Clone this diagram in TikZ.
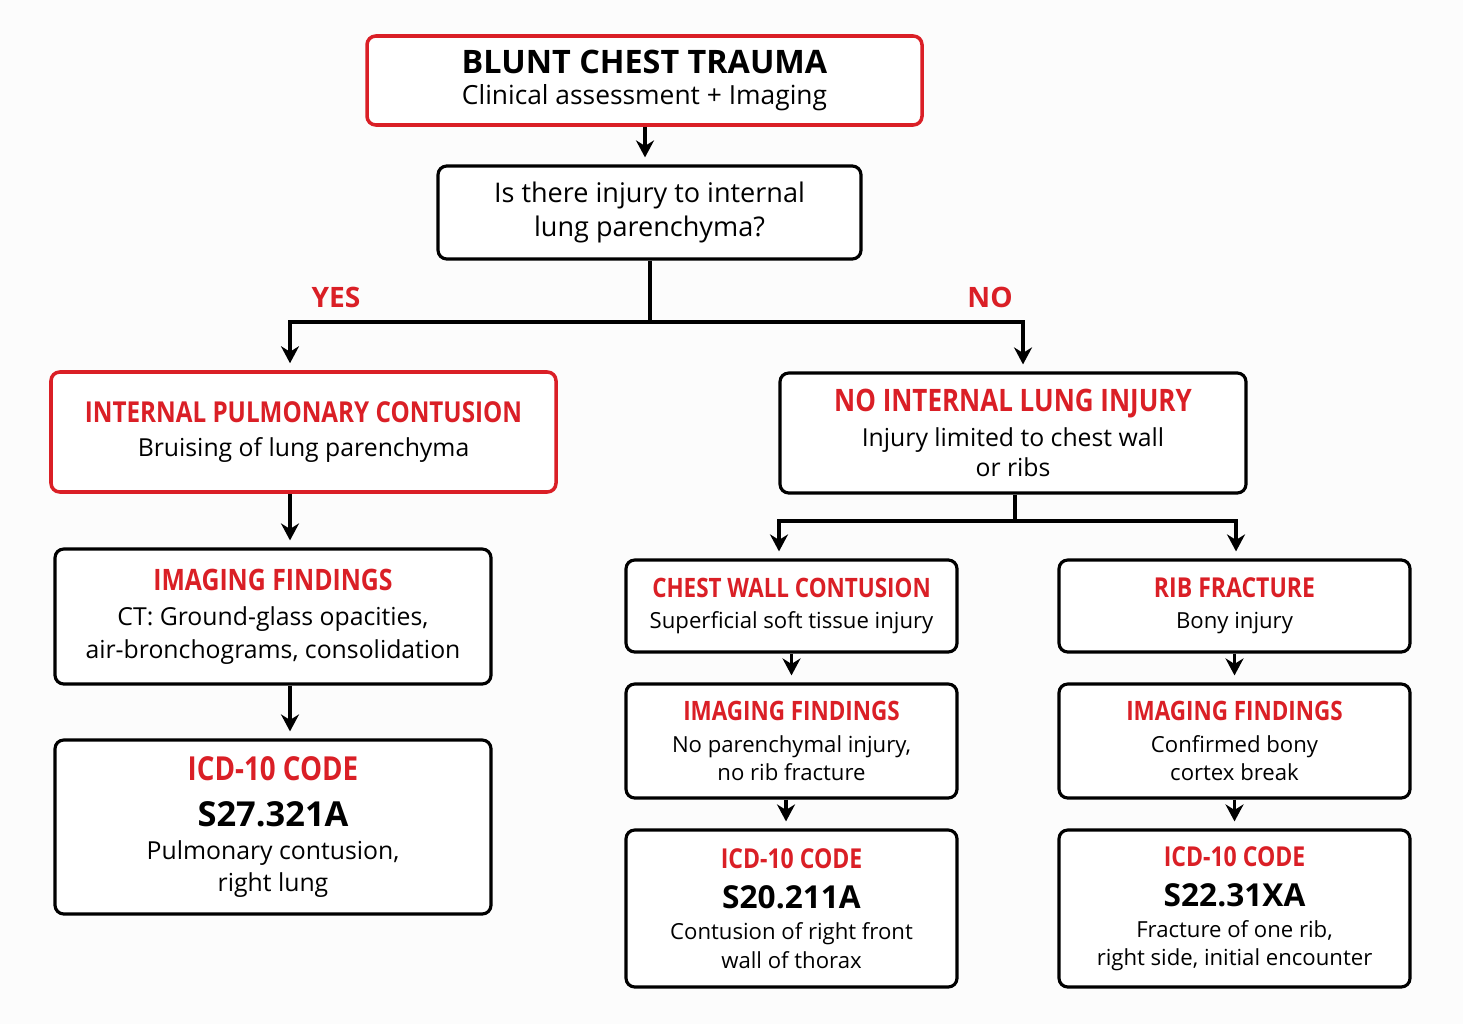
\documentclass[tikz,border=0pt]{standalone}
\usepackage{fontspec}
\setmainfont{Open Sans}
\newfontfamily\narrowfont[FakeStretch=0.84]{Open Sans}
\usetikzlibrary{arrows.meta}
\definecolor{flowred}{HTML}{DA1F26}
\definecolor{paper}{HTML}{FCFCFC}
\newcommand{\redhead}[1]{{\narrowfont\bfseries\color{flowred}#1}}

\begin{document}
\begin{tikzpicture}
  [x=0.1mm, y=-0.1mm,
   box/.style={draw=black, line width=0.9pt, rounded corners=2.5pt, fill=white, align=center, inner sep=0pt, font=\fontsize{7.05}{8.5}\selectfont},
   smallbox/.style={box, font=\fontsize{6.3}{8}\selectfont},
   redbox/.style={box, draw=flowred, line width=1pt},
   arrow/.style={line width=0.9pt, -{Stealth[length=1.7mm,width=1.8mm]}, shorten >=0.7mm},
   link/.style={line width=0.9pt},
   branch/.style={text=flowred, font=\fontsize{8}{9}\selectfont\bfseries}]

  % background
  \fill[paper] (0,0) rectangle (1463,1024);

  % top of the tree
  \node[redbox, minimum width=55.5mm, minimum height=8.9mm] (trauma) at (644.5,80.5)
    {{\fontsize{9.2}{11}\selectfont\bfseries BLUNT CHEST TRAUMA}\\[0.2mm]{\fontsize{7.5}{9}\selectfont Clinical assessment + Imaging}};
  \node[box, minimum width=42.3mm, minimum height=9.3mm, font=\fontsize{7.7}{9.6}\selectfont] (question) at (649.5,212.5)
    {Is there injury to internal\\lung parenchyma?};

  % YES branch
  \node[redbox, minimum width=50.5mm, minimum height=12mm] (contusion) at (303.5,432)
    {\redhead{\fontsize{8.2}{10}\selectfont INTERNAL PULMONARY CONTUSION}\\[0.4mm]Bruising of lung parenchyma};
  \node[box, minimum width=43.6mm, minimum height=13.5mm] (imgleft) at (273,616.5)
    {\redhead{\fontsize{8.4}{10}\selectfont IMAGING FINDINGS}\\[0.5mm]CT: Ground-glass opacities,\\[0.3mm]air-bronchograms, consolidation};
  \node[box, minimum width=43.6mm, minimum height=17.4mm] (icdleft) at (273,827)
    {\redhead{\fontsize{9.4}{10}\selectfont ICD-10 CODE}\\[1.6mm]{\fontsize{9.8}{12}\selectfont\bfseries S27.321A}\\[0.4mm]Pulmonary contusion,\\[0.2mm]right lung};

  % NO branch
  \node[box, minimum width=46.6mm, minimum height=12mm] (nolung) at (1013,433)
    {\redhead{\fontsize{8.8}{10}\selectfont NO INTERNAL LUNG INJURY}\\[0.5mm]Injury limited to chest wall\\or ribs};
  \node[smallbox, minimum width=33.1mm, minimum height=9.2mm] (chestwall) at (791.5,606)
    {\redhead{\fontsize{7.6}{9}\selectfont CHEST WALL CONTUSION}\\[0.3mm]Superficial soft tissue injury};
  \node[smallbox, minimum width=35.1mm, minimum height=9.2mm] (ribfrac) at (1234.5,606)
    {\redhead{\fontsize{7.8}{9}\selectfont RIB FRACTURE}\\[0.3mm]Bony injury};
  \node[smallbox, minimum width=33.1mm, minimum height=11.4mm] (imgmid) at (791.5,741)
    {\redhead{\fontsize{7.6}{9}\selectfont IMAGING FINDINGS}\\[0.3mm]No parenchymal injury,\\no rib fracture};
  \node[smallbox, minimum width=35.1mm, minimum height=11.4mm] (imgright) at (1234.5,741)
    {\redhead{\fontsize{7.6}{9}\selectfont IMAGING FINDINGS}\\[0.3mm]Confirmed bony\\cortex break};
  \node[smallbox, minimum width=33.1mm, minimum height=15.7mm] (icdmid) at (791.5,908.5)
    {\redhead{\fontsize{7.8}{9}\selectfont ICD-10 CODE}\\[1.2mm]{\fontsize{9}{11}\selectfont\bfseries S20.211A}\\[0.3mm]Contusion of right front\\wall of thorax};
  \node[smallbox, minimum width=35.1mm, minimum height=15.7mm] (icdright) at (1234.5,908.5)
    {\redhead{\fontsize{7.8}{9}\selectfont ICD-10 CODE}\\[1.2mm]{\fontsize{9}{11}\selectfont\bfseries S22.31XA}\\[0.3mm]Fracture of one rib,\\right side, initial encounter};

  % split points
  \coordinate (split) at (650,322);
  \coordinate (yes) at (290,322);
  \coordinate (no) at (1023,322);
  \coordinate (split2) at (1015,521);
  \coordinate (cwx) at (779,521);
  \coordinate (rbx) at (1236,521);

  \node[branch] (yeslabel) at (336,297) {YES};
  \node[branch] (nolabel) at (990,297) {NO};

  % connectors
  \draw[arrow] (trauma.south -| 645,0) -- (question.north -| 645,0);
  \draw[link] (question.south -| split) -- (split);
  \draw[arrow] (split) -- (yes) -- (contusion.north -| yes);
  \draw[arrow] (split) -- (no) -- (nolung.north -| no);
  \draw[arrow] (contusion.south -| yes) -- (imgleft.north -| yes);
  \draw[arrow] (imgleft.south -| yes) -- (icdleft.north -| yes);

  \draw[link] (nolung.south -| split2) -- (split2);
  \draw[arrow] (split2) -- (cwx) -- (chestwall.north -| cwx);
  \draw[arrow] (split2) -- (rbx) -- (ribfrac.north -| rbx);
  \draw[arrow] (chestwall) -- (imgmid);
  \draw[arrow] (ribfrac) -- (imgright);
  \draw[arrow] (imgmid.south -| 786,0) -- (icdmid.north -| 786,0);
  \draw[arrow] (imgright) -- (icdright);

\end{tikzpicture}
\end{document}
